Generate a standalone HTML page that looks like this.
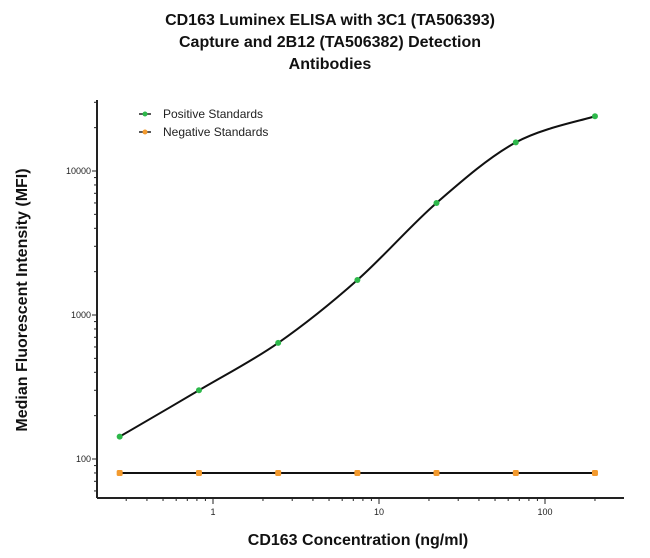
<!DOCTYPE html>
<html><head><meta charset="utf-8"><style>
body{margin:0;background:#fff;}
svg{display:block;font-family:"Liberation Sans",Arial,sans-serif;}
</style></head><body>
<svg width="650" height="558" viewBox="0 0 650 558">
<g font-weight="bold" font-size="16" text-anchor="middle" fill="#111">
<text x="330" y="25">CD163 Luminex ELISA with 3C1 (TA506393)</text>
<text x="330" y="47">Capture and 2B12 (TA506382) Detection</text>
<text x="330" y="69">Antibodies</text>
</g>
<text transform="translate(27,300) rotate(-90)" text-anchor="middle" font-weight="bold" font-size="16" fill="#111">Median Fluorescent Intensity (MFI)</text>
<text x="358" y="545" text-anchor="middle" font-weight="bold" font-size="16" fill="#111">CD163 Concentration (ng/ml)</text>
<g id="axes"></g>
<g id="marks"></g>
<g font-size="12" fill="#222">
<line x1="139" y1="114" x2="151" y2="114" stroke="#222" stroke-width="1.5"/><circle cx="145" cy="114" r="2.5" fill="#2db84a"/>
<text x="163" y="118">Positive Standards</text>
<line x1="139" y1="132" x2="151" y2="132" stroke="#222" stroke-width="1.5"/><circle cx="145" cy="132" r="2.5" fill="#f39a2e"/>
<text x="163" y="136">Negative Standards</text>
</g>
</svg>
<script>
const concentrations=[0.274,0.823,2.47,7.41,22.2,66.7,200];
const positiveMFI=[143,300,640,1750,6000,15800,24000];
const negativeMFI=[80,80,80,80,80,80,80];
const xTickLabels=["1","10","100"];
const yTickLabels=["100","1000","10000"];

const NS="http://www.w3.org/2000/svg";
function xs(v){return 213+166*Math.log10(v);}
function ys(v){return 459-144*Math.log10(v/100);}
function mk(tag,attrs,parent){const e=document.createElementNS(NS,tag);for(const k in attrs)e.setAttribute(k,attrs[k]);parent.appendChild(e);return e;}
const axes=document.getElementById('axes'),marks=document.getElementById('marks');
const X0=97,Y0=498;
let a=mk('line',{x1:X0,y1:100,x2:X0,y2:Y0,stroke:'#222','stroke-width':2},axes);


a=mk('line',{x1:X0,y1:Y0,x2:624,y2:Y0,stroke:'#222','stroke-width':2},axes);


for(let d=10;d<=100000;d*=10){for(let m=1;m<10;m++){const v=d*m;const y=ys(v);if(y<100||y>Y0)continue;
 mk('line',{x1:X0-(m==1?5:3),y1:y,x2:X0,y2:y,stroke:'#222','stroke-width':1},axes);}}
yTickLabels.forEach(l=>{const t=mk('text',{x:X0-6,y:ys(+l)+3,'text-anchor':'end','font-size':9,fill:'#222'},axes);t.textContent=l;
 
 });
for(let d=0.1;d<=1000;d*=10){for(let m=1;m<10;m++){const v=d*m;const x=xs(v);if(x<X0+3||x>624)continue;
 mk('line',{x1:x,y1:Y0,x2:x,y2:Y0+(m==1?6:3),stroke:'#222','stroke-width':1},axes);}}
xTickLabels.forEach(l=>{const t=mk('text',{x:xs(+l),y:Y0+17,'text-anchor':'middle','font-size':9,fill:'#222'},axes);t.textContent=l;
 
 });
const P=concentrations.map((c,i)=>[xs(c),ys(positiveMFI[i])]);
let d='M'+P[0][0]+','+P[0][1];
for(let i=0;i<P.length-1;i++){const p0=P[Math.max(i-1,0)],p1=P[i],p2=P[i+1],p3=P[Math.min(i+2,P.length-1)];
 d+=` C${p1[0]+(p2[0]-p0[0])/6},${p1[1]+(p2[1]-p0[1])/6} ${p2[0]-(p3[0]-p1[0])/6},${p2[1]-(p3[1]-p1[1])/6} ${p2[0]},${p2[1]}`;}
let c=mk('path',{d:d,fill:'none',stroke:'#111','stroke-width':2},marks);


const N=concentrations.map((v,i)=>xs(v)+','+ys(negativeMFI[i])).join(' L');
c=mk('path',{d:'M'+N,fill:'none',stroke:'#111','stroke-width':2},marks);


concentrations.forEach((v,i)=>{
 let p=mk('circle',{cx:xs(v),cy:ys(positiveMFI[i]),r:3,fill:'#2db84a'},marks);
 
 
 p=mk('rect',{x:xs(v)-3,y:ys(negativeMFI[i])-3,width:6,height:6,rx:1.5,fill:'#f39a2e'},marks);
 
 
});
</script>
</body></html>
